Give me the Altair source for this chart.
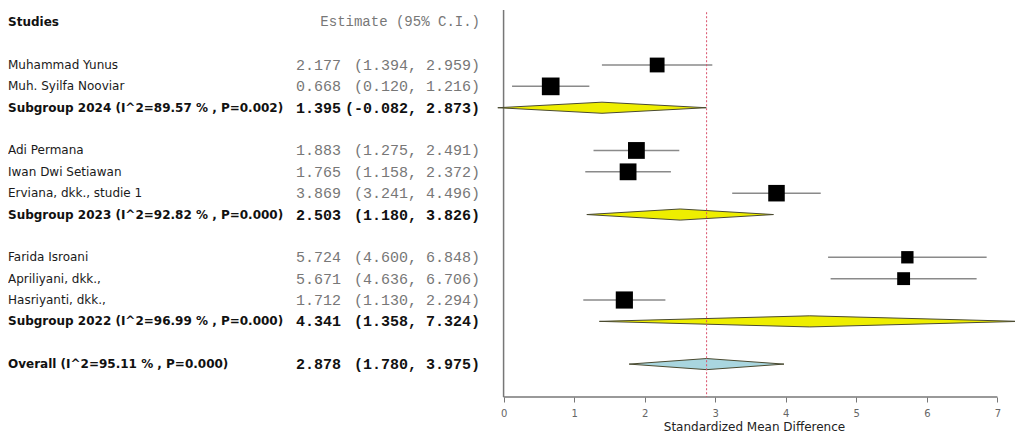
import altair as alt
import pandas as pd

labels = [
    "Muhammad Yunus",
    "Muh. Syilfa Nooviar",
    "Subgroup 2024 (I^2=89.57 % , P=0.002)",
    "Adi Permana",
    "Iwan Dwi Setiawan",
    "Erviana, dkk., studie 1",
    "Subgroup 2023 (I^2=92.82 % , P=0.000)",
    "Farida Isroani",
    "Apriliyani, dkk.,",
    "Hasriyanti, dkk.,",
    "Subgroup 2022 (I^2=96.99 % , P=0.000)",
    "Overall (I^2=95.11 % , P=0.000)",
]
kinds = ["study", "study", "subgroup",
         "study", "study", "study", "subgroup",
         "study", "study", "study", "subgroup",
         "overall"]
estimates = [2.177, 0.668, 1.395, 1.883, 1.765, 3.869, 2.503, 5.724, 5.671, 1.712, 4.341, 2.878]
lower = [1.394, 0.120, -0.082, 1.275, 1.158, 3.241, 1.180, 4.600, 4.636, 1.130, 1.358, 1.780]
upper = [2.959, 1.216, 2.873, 2.491, 2.372, 4.496, 3.826, 6.848, 6.706, 2.294, 7.324, 3.975]
x_ticks = [0, 1, 2, 3, 4, 5, 6, 7]
x_title = "Standardized Mean Difference"
header_left = "Studies"
header_right = "Estimate (95% C.I.)"

# table row order (a blank row after each subgroup)
rows = []
r = 0
for k in kinds:
    r += 1
    rows.append(r)
    if k == "subgroup":
        r += 1

df = pd.DataFrame({"label": labels, "kind": kinds, "est": estimates,
                   "lo": lower, "hi": upper, "row": rows})
df["est_txt"] = df["est"].map(lambda v: f"{v:.3f}")
df["ci_txt"] = [f"({a:.3f}, {b:.3f})" for a, b in zip(df["lo"], df["hi"])]
df["box"] = 343.0 / (df["hi"] - df["lo"])

studies = df[df["kind"] == "study"]
summary = df[df["kind"] != "study"]

hdr = pd.DataFrame({"row": [rows[0] - 2], "a": [header_left], "b": [header_right]})

Y_TOP, Y_BOT = -1.668, 16.54
yscale = alt.Scale(domain=[Y_TOP, Y_BOT], reverse=True, nice=False, zero=False)
ycode = alt.Y("row:Q", scale=yscale, axis=None)

SANS = "DejaVu Sans"
MONO = "Liberation Mono"

# ---------- left table panel ----------
LW = 485
t_hdr1 = alt.Chart(hdr).mark_text(align="left", baseline="middle", font=SANS, fontSize=12,
                                  fontWeight="bold", color="#111").encode(
    x=alt.value(0), y=ycode, text="a:N")
t_hdr2 = alt.Chart(hdr).mark_text(align="right", baseline="middle", font=MONO, fontSize=14,
                                  color="#777").encode(
    x=alt.value(472), y=ycode, text="b:N")
t_names = alt.Chart(studies).mark_text(align="left", baseline="middle", font=SANS, fontSize=12,
                                       color="#1a1a1a").encode(
    x=alt.value(0), y=ycode, text="label:N")
t_names_b = alt.Chart(summary).mark_text(align="left", baseline="middle", font=SANS, fontSize=12,
                                         fontWeight="bold", color="#111").encode(
    x=alt.value(0), y=ycode, text="label:N")
t_est = alt.Chart(studies).mark_text(align="left", baseline="middle", font=MONO, fontSize=15,
                                     color="#777").encode(
    x=alt.value(288), y=ycode, text="est_txt:N")
t_est_b = alt.Chart(summary).mark_text(align="left", baseline="middle", font=MONO, fontSize=15,
                                       fontWeight="bold", color="#111").encode(
    x=alt.value(288), y=ycode, text="est_txt:N")
t_ci = alt.Chart(studies).mark_text(align="right", baseline="middle", font=MONO, fontSize=15,
                                    color="#777").encode(
    x=alt.value(472), y=ycode, text="ci_txt:N")
t_ci_b = alt.Chart(summary).mark_text(align="right", baseline="middle", font=MONO, fontSize=15,
                                      fontWeight="bold", color="#111").encode(
    x=alt.value(472), y=ycode, text="ci_txt:N")

left = alt.layer(t_hdr1, t_hdr2, t_names, t_names_b, t_est, t_est_b, t_ci, t_ci_b).properties(
    width=LW, height=389)

# ---------- right forest panel ----------
xscale = alt.Scale(domain=[-0.15, 7.25], nice=False, zero=False)
xaxis = alt.Axis(values=x_ticks, title=x_title, domain=False, grid=False, ticks=True,
                 tickColor="#777", tickSize=5, tickWidth=1, labelFontSize=10, labelColor="#666",
                 labelFont=SANS, labelPadding=6, titleFontSize=12, titleFont=SANS,
                 titleFontWeight="normal", titleColor="#222", titlePadding=3, format="d")

LINE_TOP = -1.57
vline = pd.DataFrame({"x": [0.0], "y": [LINE_TOP], "y2": [Y_BOT]})
refline = pd.DataFrame({"x": [estimates[-1]], "y": [LINE_TOP + 0.1], "y2": [Y_BOT]})
hline = pd.DataFrame({"x": [x_ticks[0]], "x2": [x_ticks[-1]], "y": [Y_BOT]})

yq = lambda f: alt.Y(f, scale=yscale, axis=None)

r_ref = alt.Chart(refline).mark_rule(stroke="#d9506a", color="#d9506a", strokeDash=[2, 2],
                                     strokeWidth=1, opacity=1).encode(
    x=alt.X("x:Q", scale=xscale, axis=xaxis), y=yq("y:Q"), y2="y2:Q")
r_v = alt.Chart(vline).mark_rule(color="#777", strokeWidth=1.5).encode(
    x=alt.X("x:Q", scale=xscale, axis=xaxis), y=yq("y:Q"), y2="y2:Q")
r_h = alt.Chart(hline).mark_rule(color="#777", strokeWidth=1.5).encode(
    x=alt.X("x:Q", scale=xscale, axis=xaxis), x2="x2:Q", y=yq("y:Q"))
r_ci = alt.Chart(studies).mark_rule(color="#8a8a8a", strokeWidth=1.5).encode(
    x=alt.X("lo:Q", scale=xscale, axis=xaxis), x2="hi:Q", y=yq("row:Q"))
r_sq = alt.Chart(studies).mark_square(color="black", opacity=1).encode(
    x=alt.X("est:Q", scale=xscale, axis=xaxis), y=yq("row:Q"),
    size=alt.Size("box:Q", scale=None, legend=None))

HALF = 0.26
pts = []
for _, s in summary.iterrows():
    pts.append({"label": s["label"], "kind": s["kind"], "x": s["lo"], "y": s["row"], "y2": s["row"]})
    pts.append({"label": s["label"], "kind": s["kind"], "x": s["est"], "y": s["row"] - HALF, "y2": s["row"] + HALF})
    pts.append({"label": s["label"], "kind": s["kind"], "x": s["hi"], "y": s["row"], "y2": s["row"]})
dia = pd.DataFrame(pts)

r_dia = alt.Chart(dia).mark_area(stroke="#4a4a30", strokeWidth=1, clip=True, opacity=1,
                                 fillOpacity=1).encode(
    x=alt.X("x:Q", scale=xscale, axis=xaxis),
    y=alt.Y("y:Q", scale=yscale, axis=None, stack=None), y2="y2:Q",
    detail="label:N",
    color=alt.Color("kind:N", scale=alt.Scale(domain=["subgroup", "overall"],
                                              range=["#eeee00", "#a9d6df"]), legend=None))

right = alt.layer(r_v, r_h, r_ci, r_sq, r_dia, r_ref).properties(width=522, height=389)

chart = alt.hconcat(left, right, spacing=0).properties(
    padding=0, background="white").configure_view(strokeWidth=0, stroke=None)

chart.save("out.html", embed_options={"renderer": "svg", "actions": False})
